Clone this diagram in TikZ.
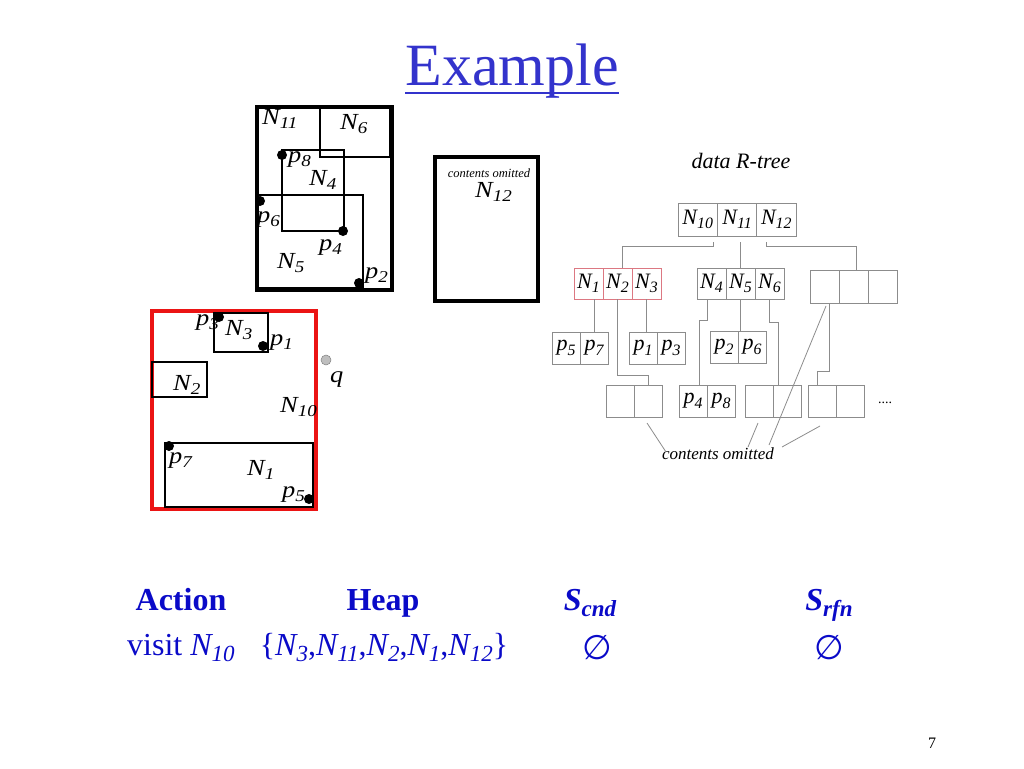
\documentclass[tikz,border=0pt]{standalone}
\usepackage{fontspec}
\setmainfont{Liberation Serif}
\newfontfamily\symfont{DejaVu Sans}
\usepackage{graphicx}
\usetikzlibrary{positioning,calc}
\definecolor{titleblue}{RGB}{51,51,204}
\definecolor{slideblue}{RGB}{10,10,200}
\definecolor{treegray}{RGB}{140,140,140}
\definecolor{treered}{RGB}{220,120,130}
\definecolor{boxred}{RGB}{235,20,20}
\definecolor{qgray}{RGB}{190,190,190}
\newcommand{\lbl}[2]{{\itshape #1\raisebox{-0.45ex}{\scalebox{0.72}{#2}}}}
\newcommand{\mlbl}[2]{\scalebox{1.15}[1]{\lbl{#1}{#2}}}
\newcommand{\noset}{{\symfont\itshape ∅}}

\begin{document}
\begin{tikzpicture}[x=1pt, y=-1pt,
    mbr/.style={draw=black, line width=2pt},
    bigmbr/.style={draw=black, line width=4pt},
    datapt/.style={circle, fill=black, inner sep=0pt, minimum size=10pt},
    lab/.style={anchor=base west, inner sep=0pt, font=\fontsize{23}{23}\selectfont},
    cell/.style={draw=treegray, line width=0.8pt, inner sep=0pt, outer sep=0pt,
        minimum width=28pt, minimum height=32pt, font=\fontsize{22}{22}\selectfont},
    redcell/.style={cell, draw=treered},
    link/.style={draw=treegray, line width=0.8pt},
    head/.style={anchor=base, inner sep=0pt, text=slideblue, font=\fontsize{32}{32}\selectfont\bfseries},
    entry/.style={anchor=base, inner sep=0pt, text=slideblue, font=\fontsize{32}{32}\selectfont}
]
    \useasboundingbox (0,0) rectangle (1024,768);

    % Title
    \node[anchor=base, inner sep=0pt, text=titleblue, font=\fontsize{60}{60}\selectfont] (title) at (512,85) {Example};
    \draw[titleblue, line width=2.5pt] ([yshift=-8pt]title.base west) -- ([yshift=-8pt]title.base east);

    % MBRs of N11
    \draw[bigmbr] (257,107) rectangle (392,290);
    \draw[mbr] (320,107) rectangle (390,157);
    \draw[mbr] (282,150) rectangle (344,231);
    \draw[mbr] (257,195) rectangle (363,288);
    \node[datapt] (p8) at (282,155) {};
    \node[datapt] (p6) at (260,201) {};
    \node[datapt] (p4) at (343,231) {};
    \node[datapt] (p2) at (359,283) {};
    \node[lab] (lN11) at (262,124) {\mlbl{N}{11}};
    \node[lab] (lN6) at (340,129) {\mlbl{N}{6}};
    \node[lab] (lp8) at (288,162) {\mlbl{p}{8}};
    \node[lab] (lN4) at (309,185) {\mlbl{N}{4}};
    \node[lab] (lp6) at (257,222) {\mlbl{p}{6}};
    \node[lab] (lp4) at (319,250) {\mlbl{p}{4}};
    \node[lab] (lN5) at (277,268) {\mlbl{N}{5}};
    \node[lab] (lp2) at (365,278) {\mlbl{p}{2}};

    % N12
    \draw[bigmbr] (435,157) rectangle (538,301);
    \node[anchor=base, inner sep=0pt, font=\fontsize{12.5}{12.5}\selectfont\itshape] (omit12) at (489,177) {contents omitted};
    \node[lab] (lN12) at (475,197) {\mlbl{N}{12}};

    % MBRs of N10
    \draw[draw=boxred, line width=4pt] (152,311) rectangle (316,509);
    \draw[mbr] (214,313) rectangle (268,352);
    \draw[mbr] (152,362) rectangle (207,397);
    \draw[mbr] (165,443) rectangle (313,507);
    \node[datapt] (p3) at (219,317) {};
    \node[datapt] (p1) at (263,346) {};
    \node[datapt] (p7) at (169,446) {};
    \node[datapt] (p5) at (309,499) {};
    \node[circle, fill=qgray, draw=gray, line width=0.5pt, inner sep=0pt, minimum size=10pt] (q) at (326,360) {};
    \node[lab] (lp3) at (196,325) {\mlbl{p}{3}};
    \node[lab] (lN3) at (225,335) {\mlbl{N}{3}};
    \node[lab] (lp1) at (270,345) {\mlbl{p}{1}};
    \node[lab] (lq) at (330,382) {\scalebox{1.15}[1]{\textit{q}}};
    \node[lab] (lN2) at (173,390) {\mlbl{N}{2}};
    \node[lab] (lN10) at (280,412) {\mlbl{N}{10}};
    \node[lab] (lp7) at (169,463) {\mlbl{p}{7}};
    \node[lab] (lN1) at (247,475) {\mlbl{N}{1}};
    \node[lab] (lp5) at (282,497) {\mlbl{p}{5}};

    % data R-tree
    \node[anchor=base, inner sep=0pt, font=\fontsize{22}{22}\selectfont\itshape] (tname) at (741,168) {data R-tree};

    % root
    \node[cell, minimum width=39.3pt, minimum height=33pt] (r1) at (697.7,219.5) {\lbl{N}{10}};
    \node[cell, minimum width=39.3pt, minimum height=33pt, right=0pt of r1] (r2) {\lbl{N}{11}};
    \node[cell, minimum width=39.3pt, minimum height=33pt, right=0pt of r2] (r3) {\lbl{N}{12}};

    % level 2
    \node[redcell, minimum width=29pt, minimum height=31pt] (a1) at (588.5,283.5) {\lbl{N}{1}};
    \node[redcell, minimum width=29pt, minimum height=31pt, right=0pt of a1] (a2) {\lbl{N}{2}};
    \node[redcell, minimum width=29pt, minimum height=31pt, right=0pt of a2] (a3) {\lbl{N}{3}};
    \node[cell, minimum width=29pt, minimum height=31pt] (b1) at (711.5,283.5) {\lbl{N}{4}};
    \node[cell, minimum width=29pt, minimum height=31pt, right=0pt of b1] (b2) {\lbl{N}{5}};
    \node[cell, minimum width=29pt, minimum height=31pt, right=0pt of b2] (b3) {\lbl{N}{6}};
    \node[cell, minimum width=29pt, minimum height=33pt] (c1) at (824.5,286.5) {};
    \node[cell, minimum width=29pt, minimum height=33pt, right=0pt of c1] (c2) {};
    \node[cell, minimum width=29pt, minimum height=33pt, right=0pt of c2] (c3) {};

    % level 3
    \node[cell] (d1) at (566,348) {\lbl{p}{5}};
    \node[cell, right=0pt of d1] (d2) {\lbl{p}{7}};
    \node[cell] (e1) at (643,348) {\lbl{p}{1}};
    \node[cell, right=0pt of e1] (e2) {\lbl{p}{3}};
    \node[cell] (f1) at (724,347) {\lbl{p}{2}};
    \node[cell, right=0pt of f1] (f2) {\lbl{p}{6}};

    % level 4
    \node[cell] (g1) at (620,401) {};
    \node[cell, right=0pt of g1] (g2) {};
    \node[cell] (h1) at (693,401) {\lbl{p}{4}};
    \node[cell, right=0pt of h1] (h2) {\lbl{p}{8}};
    \node[cell] (i1) at (759,401) {};
    \node[cell, right=0pt of i1] (i2) {};
    \node[cell] (j1) at (822,401) {};
    \node[cell, right=0pt of j1] (j2) {};
    \node[inner sep=0pt, font=\fontsize{14}{14}\selectfont] (dots) at (885,403) {....};

    % links
    \draw[link] ([xshift=-4pt,yshift=-6pt]r1.south east) -- ++(0,4) -| ([xshift=5pt]a2.north);
    \draw[link] (b2.north) -- ++(0,-26);
    \draw[link] ([xshift=-10pt,yshift=-6pt]r3.south) -- ++(0,4) -| ([xshift=3pt]c2.north);
    \draw[link] (d2.north |- a1.south) -- (d2.north);
    \draw[link] (a2.south) -- ++(0,76) -| (g2.north);
    \draw[link] (a3.south) -- (a3.south |- e1.north);
    \draw[link] ([xshift=-4pt]b1.south) -- ++(0,21) -| ([xshift=6pt]h1.north);
    \draw[link] (b2.south) -- (b2.south |- f2.north);
    \draw[link] (b3.south) -- ++(0,23) -| ([xshift=-9pt]i2.north);
    \draw[link] ([xshift=5pt]c1.south) -- ++(0,68) -| ([xshift=-5pt]j1.north);

    % contents omitted
    \node[anchor=base, inner sep=0pt, font=\fontsize{17}{17}\selectfont\itshape] (co) at (718,459) {contents omitted};
    \draw[link] ($(g2.south)+(-1,6)$) -- ($(co.base)+(-52,-7)$);
    \draw[link] ($(i1.south)+(-1,6)$) -- ($(co.base)+(30,-12)$);
    \draw[link] ($(c1.south)+(1.5,3)$) -- ($(co.base)+(51,-14)$);
    \draw[link] ($(j1.south)+(-2,9)$) -- ($(co.base)+(64,-12)$);

    % table
    \node[head] (hact) at (181,610) {Action};
    \node[head] (hheap) at (383,610) {Heap};
    \node[head] (hcnd) at (590,610) {\lbl{S}{cnd}};
    \node[head] (hrfn) at (829,610) {\lbl{S}{rfn}};
    \node[entry] (vact) at (181,655) {visit \lbl{N}{10}};
    \node[entry] (vheap) at (384,655) {\{\lbl{N}{3},\lbl{N}{11},\lbl{N}{2},\lbl{N}{1},\lbl{N}{12}\}};
    \node[entry, font=\fontsize{34}{34}\selectfont] (vcnd) at (597,659) {\noset};
    \node[entry, font=\fontsize{34}{34}\selectfont] (vrfn) at (829,659) {\noset};

    % page number
    \node[anchor=base, inner sep=0pt, font=\fontsize{16}{16}\selectfont] (pgno) at (932,748) {7};
\end{tikzpicture}
\end{document}
